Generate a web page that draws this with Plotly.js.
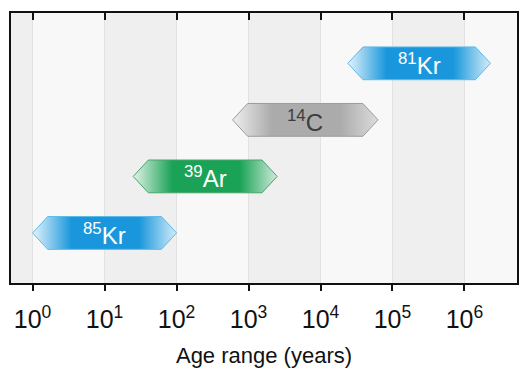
<!DOCTYPE html>
<html><head><meta charset="utf-8">
<script src="https://cdn.plot.ly/plotly-3.0.1.min.js"></script>
<style>html,body{margin:0;padding:0;background:#fff}</style></head><body>
<div id="chart" style="width:532px;height:377px"></div>
<script>
// ---- data ----
const massNumbers = ['85', '39', '14', '81'];
const elements = ['Kr', 'Ar', 'C', 'Kr'];
const minAge = [1, 25, 600, 24000];          // years
const maxAge = [100, 2500, 63000, 2300000];  // years
const rowPos = [1, 2, 3, 4];
const tickValues = [1, 10, 100, 1000, 10000, 100000, 1000000];
const tickLabels = ['10<sup>0</sup>', '10<sup>1</sup>', '10<sup>2</sup>', '10<sup>3</sup>', '10<sup>4</sup>', '10<sup>5</sup>', '10<sup>6</sup>'];
const axisTitle = 'Age range (years)';

// ---- styles ----
const fillLeft = ['#e3f3fb', '#e2f2e8', '#efefef', '#e3f3fb'];
const fillMain = ['#1a97dc', '#1aa356', '#ababab', '#1a97dc'];
const fillRight = ['#d2ecf9', '#cfeadb', '#dcdcdc', '#d2ecf9'];
const edgeColors = ['#5fb9e8', '#47a56a', '#9c9c9c', '#5fb9e8'];
const labelColors = ['#ffffff', '#ffffff', '#3d3d3d', '#ffffff'];
const FONT = 'Liberation Sans, Arial, sans-serif';
const xRange = [-0.30, 6.73];
const tip = 0.21, half = 0.29;

const traces = [];
const annotations = [];
for (let i = 0; i < elements.length; i++) {
  const lo = Math.log10(minAge[i]), hi = Math.log10(maxAge[i]), r = rowPos[i];
  const lx = [lo, lo + tip, hi - tip, hi, hi - tip, lo + tip, lo];
  traces.push({
    type: 'scatter', mode: 'lines',
    x: lx.map(v => Math.pow(10, v)),
    y: [r, r + half, r + half, r, r - half, r - half, r],
    fill: 'toself',
    fillgradient: {type: 'horizontal', colorscale: [[0, fillLeft[i]], [0.27, fillMain[i]], [0.74, fillMain[i]], [1, fillRight[i]]]},
    line: {color: edgeColors[i], width: 1},
    hoverinfo: 'skip', showlegend: false
  });
  annotations.push({
    x: (lo + hi) / 2, y: r, xref: 'x', yref: 'y',
    text: '<sup>' + massNumbers[i] + '</sup>' + elements[i],
    showarrow: false, font: {family: FONT, size: 24, color: labelColors[i]},
    xanchor: 'center', yanchor: 'middle', yshift: -1
  });
}
// dummy trace for top (mirrored inside) ticks
traces.push({type: 'scatter', x: [1], y: [null], xaxis: 'x2', yaxis: 'y', showlegend: false, hoverinfo: 'skip'});

// alternating background bands
const shapes = [];
const edges = [xRange[0]].concat(tickValues.map(v => Math.log10(v))).concat([xRange[1]]);
for (let k = 0; k < edges.length - 1; k++) {
  if (k % 2 === 0) {
    shapes.push({type: 'rect', xref: 'x', yref: 'paper', x0: Math.pow(10, edges[k]), x1: Math.pow(10, edges[k + 1]), y0: 0, y1: 1,
      fillcolor: '#efefef', line: {width: 0}, layer: 'below'});
  }
}

const layout = {
  width: 532, height: 377,
  margin: {l: 11, r: 15, t: 13, b: 94},
  paper_bgcolor: '#ffffff', plot_bgcolor: '#f8f8f8',
  showlegend: false,
  xaxis: {
    type: 'log', range: xRange, tickvals: tickValues, ticktext: tickLabels,
    ticks: 'outside', ticklen: 6, tickwidth: 2, tickcolor: '#111',
    ticklabelstandoff: 7,
    showline: true, mirror: true, linecolor: '#111', linewidth: 2,
    showgrid: true, gridcolor: '#e2e2e2', gridwidth: 1.5, zeroline: false,
    tickfont: {family: FONT, size: 25, color: '#111'},
    title: {text: axisTitle, font: {family: FONT, size: 22, color: '#111'}, standoff: 16},
    fixedrange: true
  },
  xaxis2: {
    type: 'log', range: xRange, overlaying: 'x', side: 'top', tickvals: tickValues,
    ticks: 'inside', ticklen: 7, tickwidth: 2, tickcolor: '#111',
    showticklabels: false, showgrid: false, showline: false, zeroline: false, fixedrange: true
  },
  yaxis: {
    range: [0.115, 4.89], showticklabels: false, ticks: '', showgrid: false, zeroline: false,
    showline: true, mirror: true, linecolor: '#111', linewidth: 2, fixedrange: true
  },
  shapes: shapes,
  annotations: annotations
};
Plotly.newPlot('chart', traces, layout, {displayModeBar: false, staticPlot: true});
</script>
</body></html>
